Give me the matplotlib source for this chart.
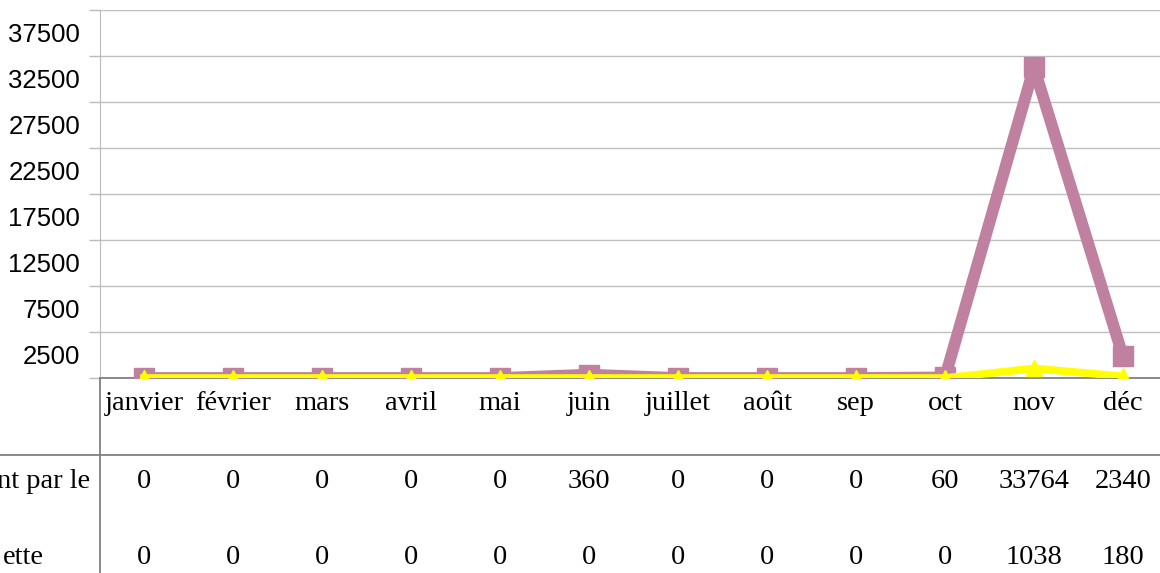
import matplotlib
matplotlib.use("Agg")
import matplotlib.pyplot as plt
from matplotlib.lines import Line2D

# ── Data ──────────────────────────────────────────────────────────────────────
months = ["janvier", "février", "mars", "avril", "mai", "juin",
          "juillet", "août", "sep", "oct", "nov", "déc"]
row_labels = ["nt par le", "ette"]
series_a = [0, 0, 0, 0, 0, 360, 0, 0, 0, 60, 33764, 2340]
series_b = [0, 0, 0, 0, 0, 0, 0, 0, 0, 0, 1038, 180]
grid_ticks = list(range(0, 40001, 5000))
label_ticks = list(range(2500, 37501, 5000))

W, H = 1160, 573
fig = plt.figure(figsize=(W / 100, H / 100), dpi=100)

# axes in pixel terms: left 99.5, right beyond the canvas, top 10, bottom 378
left, right, top, bottom = 99.5, 99.5 + 12 * 89, 10, 378
ax = fig.add_axes([left / W, (H - bottom) / H, (right - left) / W, (bottom - top) / H])

x = list(range(len(months)))
ax.plot(x, series_a, color="#C0809F", linewidth=8.5, marker="s", markersize=14.5,
        solid_joinstyle="bevel", zorder=3)
ax.plot(x, series_b, color="#FFFF00", linewidth=5.5, marker="^", markersize=11,
        solid_joinstyle="bevel", zorder=4)

ax.set_xlim(-0.5, 11.5)
ax.set_ylim(0, 40000)
ax.set_xticks([])
ax.set_yticks(grid_ticks)
ax.set_yticklabels([])
ax.set_yticks(label_ticks, minor=True)
ax.set_yticklabels([str(v) for v in label_ticks], minor=True,
                   fontsize=18.5, family="Liberation Sans")
ax.tick_params(axis="y", which="major", length=8, color="#BBBBBB", width=1)
ax.tick_params(axis="y", which="minor", length=0, pad=14)
ax.grid(True, axis="y", which="major", color="#C0C0C0", linewidth=1)
ax.set_axisbelow(True)

for side in ["top", "right"]:
    ax.spines[side].set_visible(False)
ax.spines["left"].set_color("#BBBBBB")
ax.spines["bottom"].set_color("#808080")
ax.spines["bottom"].set_linewidth(1.3)

# ── Data table below the plot ─────────────────────────────────────────────────
serif = "Liberation Serif"
fs = 20.5
tr = ax.get_xaxis_transform()


def ypos(px):
    return (bottom - px) / (bottom - top)


for i, m in enumerate(months):
    ax.text(i, ypos(404), m, transform=tr, ha="center", va="center",
            fontsize=fs, family=serif, clip_on=False)
    ax.text(i, ypos(481), str(series_a[i]), transform=tr, ha="center",
            va="center", fontsize=fs, family=serif, clip_on=False)
    ax.text(i, ypos(557), str(series_b[i]), transform=tr, ha="center",
            va="center", fontsize=fs, family=serif, clip_on=False)

fig.text(90 / W, (H - 481) / H, row_labels[0], ha="right", va="center",
         fontsize=fs, family=serif)
fig.text(3 / W, (H - 557) / H, row_labels[1], ha="left", va="center",
         fontsize=fs, family=serif)

fig.add_artist(Line2D([0, 1], [(H - 455) / H] * 2, color="#808080", linewidth=1.3))
fig.add_artist(Line2D([left / W] * 2, [0, (H - bottom) / H], color="#808080",
                      linewidth=1.3))

fig.savefig("out.png", dpi=100)
